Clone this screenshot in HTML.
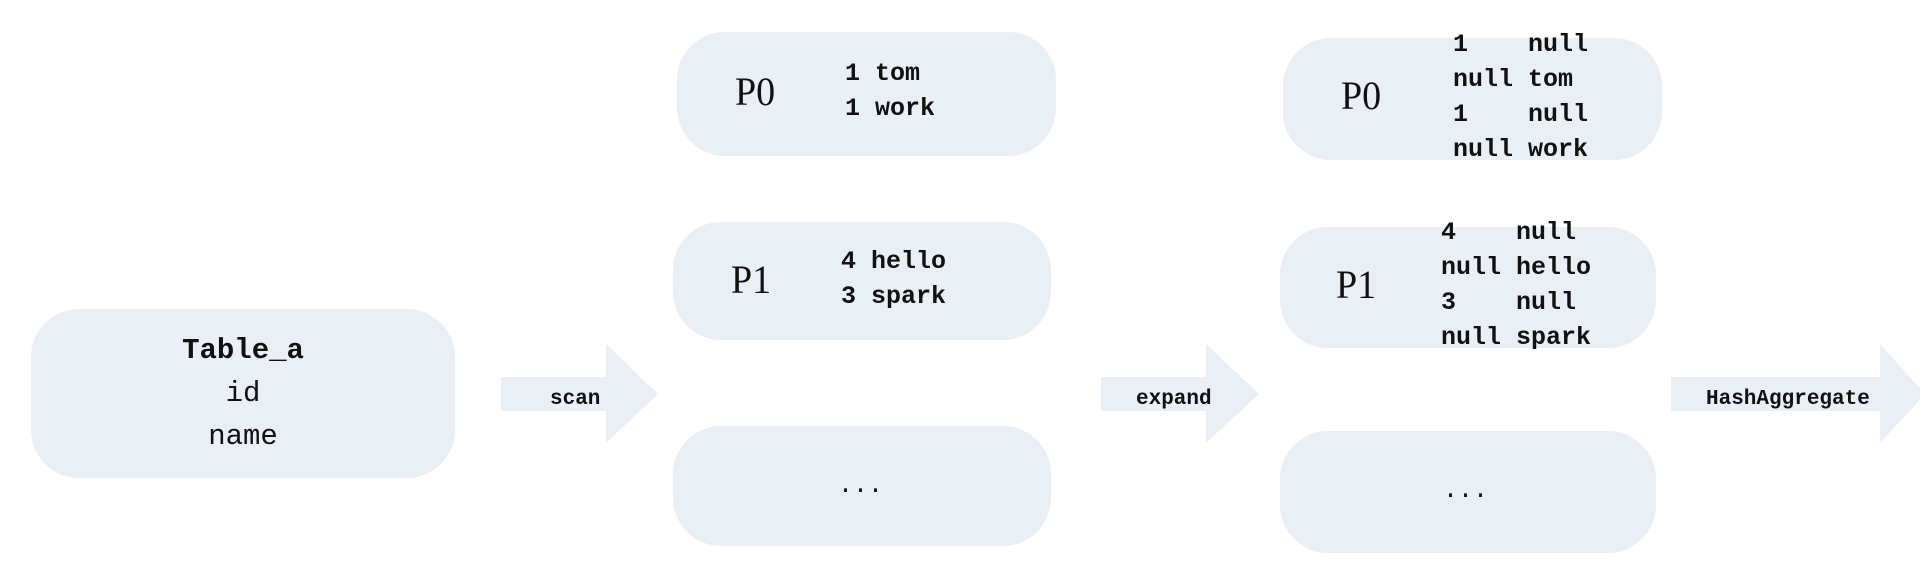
<!DOCTYPE html>
<html><head><meta charset="utf-8"><style>
body{margin:0;width:1920px;height:580px;background:#fff;position:relative;overflow:hidden;font-family:"Liberation Serif","Noto Serif CJK SC",serif;color:#111}
.box{position:absolute;background:#eaeef5;border-radius:48px}
.t{position:absolute;white-space:pre;line-height:1}
.p{font-size:40px;font-family:"Liberation Serif",serif;transform:scaleX(0.95);transform-origin:left}
.m{font-family:"Liberation Mono","Noto Sans CJK SC",monospace;font-weight:bold;font-size:25px;line-height:35px}
svg{position:absolute;left:0;top:0}
</style></head><body>
<svg width="1920" height="580">
<polygon points="501,377 606,377 606,344 658,394 606,443 606,411 501,411" fill="#eaeef5"/>
<polygon points="1101,377 1206,377 1206,344 1259,394 1206,443 1206,411 1101,411" fill="#eaeef5"/>
<polygon points="1671,377 1880,377 1880,344 1925,394 1880,443 1880,411 1671,411" fill="#eaeef5"/>
</svg>
<div class="t m" style="left:550px;top:382px;font-size:21px">scan</div>
<div class="t m" style="left:1136px;top:382px;font-size:21px">expand</div>
<div class="t m" style="left:1706px;top:382px;font-size:21px">HashAggregate</div>

<div class="box" style="left:31px;top:309px;width:424px;height:169px">
<div class="t m" style="left:0;width:424px;text-align:center;top:20px;font-size:29px;line-height:43px">Table_a<br><span style="font-weight:normal">id<br>name</span></div></div>

<div class="box" style="left:677px;top:32px;width:379px;height:124px">
<div class="t p" style="left:58px;top:40px">P0</div>
<div class="t m" style="left:168px;top:24px">1 tom<br>1 work</div></div>
<div class="box" style="left:673px;top:222px;width:378px;height:118px">
<div class="t p" style="left:58px;top:38px">P1</div>
<div class="t m" style="left:168px;top:22px">4 hello<br>3 spark</div></div>
<div class="box" style="left:673px;top:426px;width:378px;height:120px">
<div class="t m" style="left:165px;top:42px;font-weight:normal">...</div></div>

<div class="box" style="left:1283px;top:38px;width:379px;height:122px">
<div class="t p" style="left:58px;top:38px">P0</div>
<div class="t m" style="left:170px;top:-11px">1    null<br>null tom<br>1    null<br>null work</div></div>
<div class="box" style="left:1280px;top:227px;width:376px;height:121px">
<div class="t p" style="left:56px;top:38px">P1</div>
<div class="t m" style="left:161px;top:-12px">4    null<br>null hello<br>3    null<br>null spark</div></div>
<div class="box" style="left:1280px;top:431px;width:376px;height:122px">
<div class="t m" style="left:163px;top:42px;font-weight:normal">...</div></div>
</body></html>
